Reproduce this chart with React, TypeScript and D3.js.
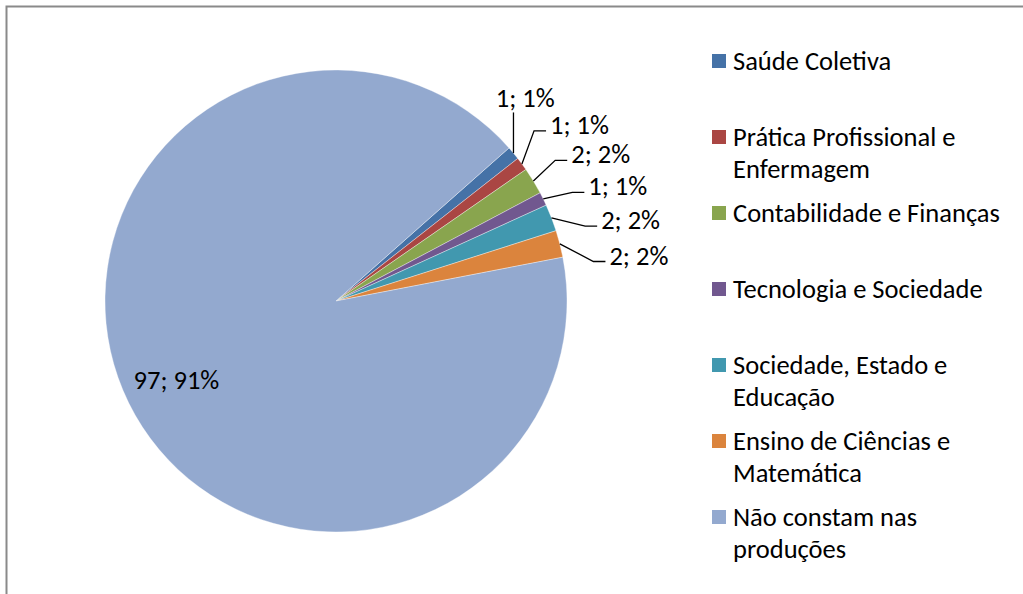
import React, { useEffect, useRef } from 'react'
import * as d3 from 'd3'

const categories = [
  'Saúde Coletiva',
  'Prática Profissional e Enfermagem',
  'Contabilidade e Finanças',
  'Tecnologia e Sociedade',
  'Sociedade, Estado e Educação',
  'Ensino de Ciências e Matemática',
  'Não constam nas produções',
]
// legend lines as Excel wraps them
const legendLines = [
  ['Saúde Coletiva'],
  ['Prática Profissional e', 'Enfermagem'],
  ['Contabilidade e Finanças'],
  ['Tecnologia e Sociedade'],
  ['Sociedade, Estado e', 'Educação'],
  ['Ensino de Ciências e', 'Matemática'],
  ['Não constam nas', 'produções'],
]
const values = [1, 1, 2, 1, 2, 2, 97]
const percents = [1, 1, 2, 1, 2, 2, 91]
const colors = ['#4572A7', '#AA4643', '#89A54E', '#71588F', '#4198AF', '#DB843D', '#93A9CF']

const W = 1023
const H = 594
const FONT = 'Carlito, Calibri, Lato, sans-serif'
const FS = 26.5

export default function App() {
  const svgRef = useRef<SVGSVGElement>(null)

  useEffect(() => {
    if (!svgRef.current) return
    const svg = d3.select(svgRef.current)
    svg.selectAll('*').remove()

    // chart area border (top + left visible)
    svg.append('path')
      .attr('d', `M${W},6.5H6.5V${H}`)
      .attr('fill', 'none')
      .attr('stroke', '#8a8a8a')
      .attr('stroke-width', 2)

    const cx = 336
    const cy = 301
    const r = 231
    const start = (48.5 * Math.PI) / 180

    const pie = d3.pie<number>().sort(null).value((d) => d)
      .startAngle(start).endAngle(start + 2 * Math.PI)
    const arcs = pie(values)
    const arc = d3.arc<d3.PieArcDatum<number>>().innerRadius(0).outerRadius(r)

    const g = svg.append('g').attr('transform', `translate(${cx},${cy})`)
    g.selectAll('path')
      .data(arcs)
      .join('path')
      .attr('d', arc)
      .attr('fill', (_, i) => colors[i])
      .attr('stroke', '#ffffff')
      .attr('stroke-width', 0.6)
      .attr('stroke-opacity', 0.6)

    const mid = (a: d3.PieArcDatum<number>) => (a.startAngle + a.endAngle) / 2
    const label = (i: number) => `${values[i]}; ${percents[i]}%`

    // big slice label inside
    const bm = mid(arcs[6])
    g.append('text')
      .attr('x', Math.sin(bm) * r * 0.77)
      .attr('y', -Math.cos(bm) * r * 0.77)
      .attr('text-anchor', 'middle')
      .attr('dominant-baseline', 'central')
      .attr('font-family', FONT)
      .attr('font-size', FS)
      .attr('fill', '#000')
      .text(label(6))

    // outside labels for small slices: spread their angles so they don't collide
    const small = arcs.slice(0, 6).map((a, i) => ({ i, m: mid(a), ang: mid(a) }))
    const minGap = (7.5 * Math.PI) / 180
    const groups = small.map((s) => ({ items: [s], center: s.m }))
    let merged = true
    while (merged) {
      merged = false
      for (let k = 0; k < groups.length - 1; k++) {
        const a = groups[k]
        const b = groups[k + 1]
        const aEnd = a.center + ((a.items.length - 1) * minGap) / 2
        const bStart = b.center - ((b.items.length - 1) * minGap) / 2
        if (bStart - aEnd < minGap) {
          const items = a.items.concat(b.items)
          groups.splice(k, 2, { items, center: d3.mean(items, (d) => d.m) as number })
          merged = true
          break
        }
      }
    }
    groups.forEach((gr) => {
      gr.items.forEach((s, j) => {
        s.ang = gr.center + (j - (gr.items.length - 1) / 2) * minGap
      })
    })

    const R = r * 1.2
    small.forEach((s) => {
      const px = Math.sin(s.ang) * R
      const py = -Math.cos(s.ang) * R
      const ax = Math.sin(s.m) * r
      const ay = -Math.cos(s.m) * r
      const above = s.ang < Math.PI / 4
      const t = g.append('text')
        .attr('x', px)
        .attr('y', py)
        .attr('dominant-baseline', 'central')
        .attr('font-family', FONT)
        .attr('font-size', FS)
        .attr('fill', '#000')
        .text(label(s.i))
      if (above) {
        t.attr('text-anchor', 'middle')
        g.append('path')
          .attr('d', `M${ax},${ay}V${py + 14}`)
          .attr('fill', 'none')
          .attr('stroke', '#000')
          .attr('stroke-width', 1.3)
      } else {
        g.append('path')
          .attr('d', `M${ax},${ay}L${px - 16},${py + 6}H${px - 4}`)
          .attr('fill', 'none')
          .attr('stroke', '#000')
          .attr('stroke-width', 1.3)
      }
    })

    // legend
    const ly = d3.scaleLinear().domain([0, categories.length - 1]).range([61, 517])
    const lg = svg.append('g')
    legendLines.forEach((lines, i) => {
      const y = ly(i)
      lg.append('rect')
        .attr('x', 712)
        .attr('y', y - 7)
        .attr('width', 14)
        .attr('height', 14)
        .attr('fill', colors[i])
      lines.forEach((t, j) => {
        lg.append('text')
          .attr('x', 733)
          .attr('y', y + j * 32)
          .attr('dominant-baseline', 'central')
          .attr('font-family', FONT)
          .attr('font-size', FS)
          .attr('fill', '#000')
          .text(t)
      })
    })
  }, [])

  return (
    <svg
      ref={svgRef}
      width={W}
      height={H}
      style={{ position: 'absolute', left: 0, top: 0, background: '#fff' }}
    />
  )
}
